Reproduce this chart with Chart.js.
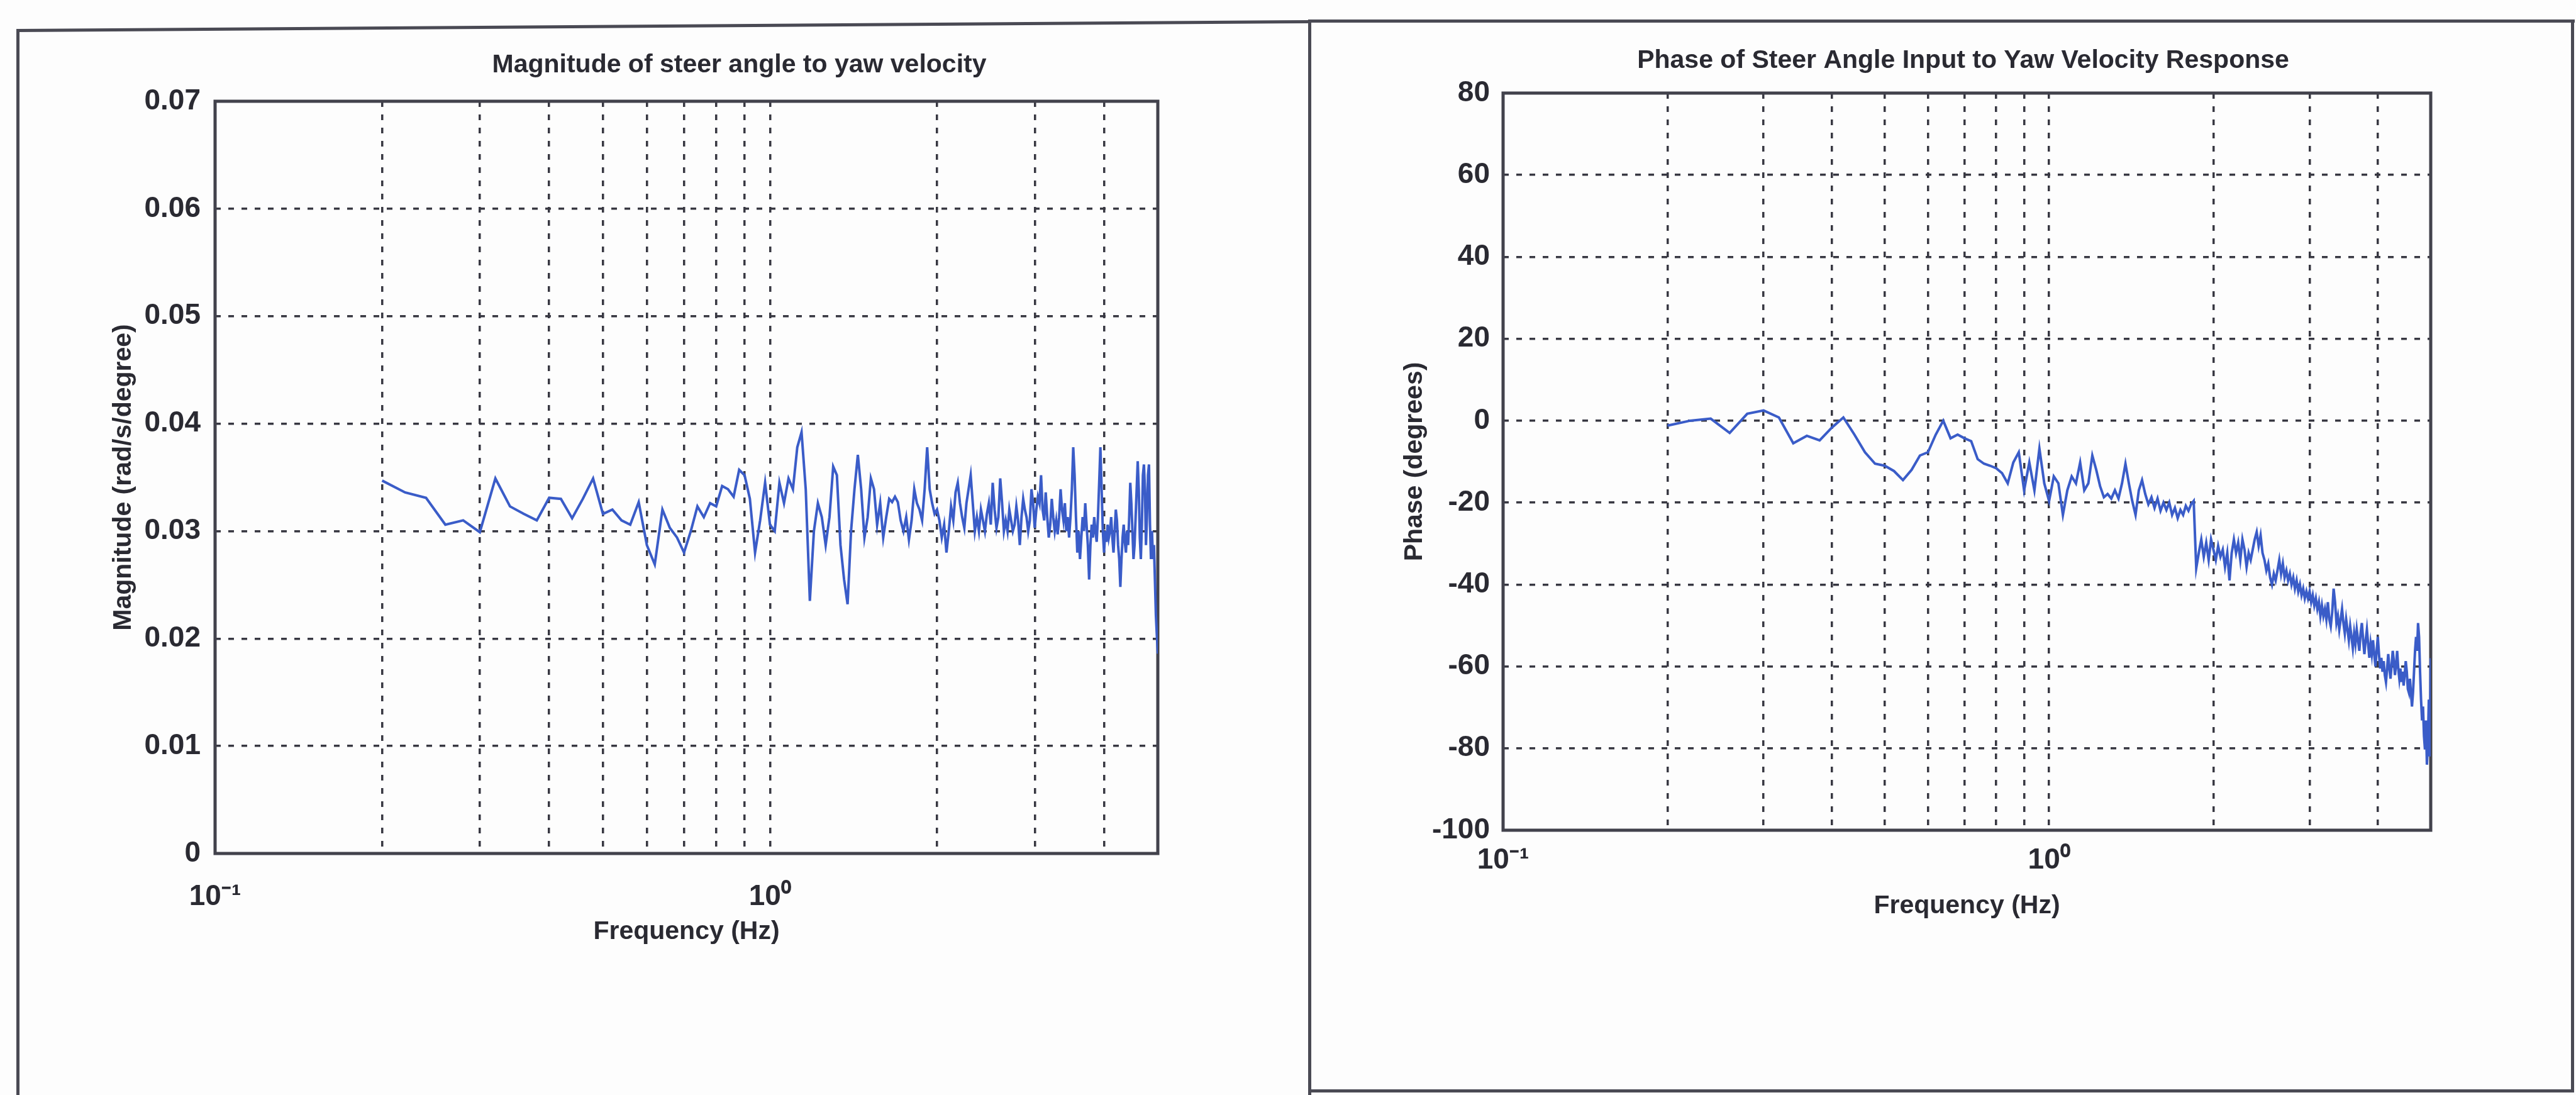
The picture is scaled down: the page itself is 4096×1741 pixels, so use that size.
<!DOCTYPE html>
<html>
<head>
<meta charset="utf-8">
<script src="https://cdn.jsdelivr.net/npm/chart.js@4.4.1/dist/chart.umd.min.js"></script>
<style>
  html, body { margin: 0; padding: 0; background: #fdfdfd; }
  #page { position: relative; width: 4096px; height: 1741px; overflow: hidden; background: #fdfdfd; }
  .rule { position: absolute; background: #4a4a54; }
  canvas { position: absolute; top: 0; }
</style>
</head>
<body>
<div id="page">
  <div class="rule" style="left:27px; top:46px; width:2058px; height:5px; transform-origin:0 50%; transform:rotate(-0.39deg);"></div>
  <div class="rule" style="left:2080px; top:31px; width:2014px; height:5px;"></div>
  <div class="rule" style="left:26px; top:46px; width:5px; height:1700px;"></div>
  <div class="rule" style="left:2080px; top:31px; width:5px; height:1715px;"></div>
  <div class="rule" style="left:4088px; top:31px; width:5px; height:1706px;"></div>
  <div class="rule" style="left:2080px; top:1732px; width:2013px; height:5px;"></div>
  <canvas id="magChart" width="2082" height="1741" style="left:0px;"></canvas>
  <canvas id="phaseChart" width="2014" height="1741" style="left:2082px;"></canvas>
</div>
<script>
// Frequency bins of the measured response (Hz)
const frequencyHz = [
  0.20,0.22,0.24,0.26,0.28,0.30,0.32,0.34,0.36,0.38,
  0.40,0.42,0.44,0.46,0.48,0.50,0.52,0.54,0.56,0.58,
  0.60,0.62,0.64,0.66,0.68,0.70,0.72,0.74,0.76,0.78,
  0.80,0.82,0.84,0.86,0.88,0.90,0.92,0.94,0.96,0.98,
  1.00,1.02,1.04,1.06,1.08,1.10,1.12,1.14,1.16,1.18,
  1.20,1.22,1.24,1.26,1.28,1.30,1.32,1.34,1.36,1.38,
  1.40,1.42,1.44,1.46,1.48,1.50,1.52,1.54,1.56,1.58,
  1.60,1.62,1.64,1.66,1.68,1.70,1.72,1.74,1.76,1.78,
  1.80,1.82,1.84,1.86,1.88,1.90,1.92,1.94,1.96,1.98,
  2.00,2.02,2.04,2.06,2.08,2.10,2.12,2.14,2.16,2.18,
  2.20,2.22,2.24,2.26,2.28,2.30,2.32,2.34,2.36,2.38,
  2.40,2.42,2.44,2.46,2.48,2.50,2.52,2.54,2.56,2.58,
  2.60,2.62,2.64,2.66,2.68,2.70,2.72,2.74,2.76,2.78,
  2.80,2.82,2.84,2.86,2.88,2.90,2.92,2.94,2.96,2.98,
  3.00,3.02,3.04,3.06,3.08,3.10,3.12,3.14,3.16,3.18,
  3.20,3.22,3.24,3.26,3.28,3.30,3.32,3.34,3.36,3.38,
  3.40,3.42,3.44,3.46,3.48,3.50,3.52,3.54,3.56,3.58,
  3.60,3.62,3.64,3.66,3.68,3.70,3.72,3.74,3.76,3.78,
  3.80,3.82,3.84,3.86,3.88,3.90,3.92,3.94,3.96,3.98,
  4.00,4.02,4.04,4.06,4.08,4.10,4.12,4.14,4.16,4.18,
  4.20,4.22,4.24,4.26,4.28,4.30,4.32,4.34,4.36,4.38,
  4.40,4.42,4.44,4.46,4.48,4.50,4.52,4.54,4.56,4.58,
  4.60,4.62,4.64,4.66,4.68,4.70,4.72,4.74,4.76,4.78,
  4.80,4.82,4.84,4.86,4.88,4.90,4.92,4.94,4.96,4.98,
  5.00
];

// Magnitude of steer angle to yaw velocity (rad/s/degree)
const magnitude = [
  0.0347,0.0336,0.0331,0.0306,0.0310,0.0299,0.0349,0.0323,0.0316,0.0310,
  0.0331,0.0330,0.0312,0.0330,0.0349,0.0316,0.0320,0.0310,0.0306,0.0327,
  0.0287,0.0269,0.0320,0.0303,0.0294,0.0280,0.0300,0.0323,0.0313,0.0326,
  0.0323,0.0342,0.0339,0.0332,0.0357,0.0352,0.0330,0.0280,0.0310,0.0345,
  0.0306,0.0300,0.0345,0.0326,0.0349,0.0339,0.0378,0.0392,0.0339,0.0235,
  0.0300,0.0326,0.0313,0.0287,0.0313,0.0360,0.0352,0.0287,0.0255,0.0232,
  0.0300,0.0339,0.0371,0.0339,0.0294,0.0313,0.0349,0.0339,0.0306,0.0326,
  0.0294,0.0313,0.0330,0.0327,0.0332,0.0327,0.0310,0.0300,0.0313,0.0292,
  0.0310,0.0339,0.0326,0.0320,0.0310,0.0339,0.0378,0.0339,0.0326,0.0316,
  0.0320,0.0310,0.0294,0.0306,0.0280,0.0300,0.0323,0.0310,0.0336,0.0345,
  0.0326,0.0313,0.0303,0.0326,0.0339,0.0352,0.0326,0.0300,0.0313,0.0300,
  0.0320,0.0310,0.0300,0.0316,0.0326,0.0306,0.0345,0.0320,0.0303,0.0313,
  0.0349,0.0326,0.0300,0.0310,0.0300,0.0320,0.0310,0.0300,0.0306,0.0323,
  0.0310,0.0287,0.0313,0.0330,0.0320,0.0313,0.0300,0.0310,0.0339,0.0326,
  0.0303,0.0320,0.0332,0.0326,0.0352,0.0320,0.0310,0.0336,0.0313,0.0294,
  0.0306,0.0330,0.0313,0.0300,0.0310,0.0297,0.0313,0.0339,0.0320,0.0310,
  0.0326,0.0300,0.0313,0.0294,0.0313,0.0339,0.0378,0.0352,0.0313,0.0280,
  0.0300,0.0274,0.0294,0.0313,0.0300,0.0326,0.0306,0.0287,0.0255,0.0287,
  0.0306,0.0294,0.0313,0.0300,0.0290,0.0313,0.0345,0.0378,0.0339,0.0300,
  0.0280,0.0300,0.0290,0.0306,0.0294,0.0300,0.0313,0.0294,0.0280,0.0300,
  0.0320,0.0310,0.0287,0.0274,0.0248,0.0274,0.0294,0.0306,0.0290,0.0280,
  0.0300,0.0287,0.0313,0.0345,0.0326,0.0300,0.0274,0.0287,0.0313,0.0339,
  0.0365,0.0339,0.0294,0.0274,0.0306,0.0352,0.0362,0.0339,0.0287,0.0313,
  0.0352,0.0362,0.0306,0.0274,0.0300,0.0274,0.0287,0.0255,0.0222,0.0203,
  0.0186
];

// Phase of steer angle input to yaw velocity response (degrees)
const phaseDeg = [
  -1.2,0,0.5,-3,1.7,2.5,0.8,-5.5,-3.7,-4.8,
  -1.7,0.8,-3.4,-7.7,-10.5,-11,-12.3,-14.5,-12,-8.5,
  -7.7,-3.4,0,-4.3,-3.4,-4.3,-5,-9.4,-10.5,-11,
  -11.6,-12.8,-15.3,-10.2,-7.7,-17,-10.2,-17,-6.8,-15.3,
  -19.6,-13.6,-15.3,-23,-17,-13.6,-15.3,-10.2,-17,-15.3,
  -8.5,-12,-16,-18.7,-17.9,-19,-17,-19,-15.3,-10.5,
  -15.3,-19.6,-23,-17,-14.5,-17.9,-20.4,-18.7,-21.3,-19,
  -22,-20,-21.8,-20,-23,-21.3,-23.8,-21.8,-23,-20.8,
  -22,-20.4,-19.6,-36,-32.3,-29,-33.2,-29.8,-34,-29,
  -31.5,-34,-30.6,-33.2,-31.5,-35.7,-32.3,-39,-32.3,-29,
  -32.3,-29.8,-34,-29,-31.5,-35.7,-32.3,-34,-31.5,-29,
  -27.2,-30.6,-28,-32.3,-34,-36.6,-34.9,-38.3,-40,-37.4,
  -39,-36.6,-34,-37.4,-34.9,-38.3,-36.6,-39,-37.4,-40,
  -38.3,-41,-39,-41.7,-40,-42.6,-41,-43.4,-41.7,-43.4,
  -41.7,-44.3,-42.6,-45.1,-43.4,-46,-44.3,-47.7,-45.1,-47.7,
  -46,-48.5,-44.3,-48.5,-50.2,-46.8,-41,-44.3,-49.4,-47.7,
  -51,-48.5,-46,-49.4,-51.9,-48.5,-51,-53.6,-50.2,-52.8,
  -55.5,-51.9,-54.5,-51,-53.6,-56.2,-51.9,-49.4,-53.6,-57,
  -53.6,-51,-54.5,-57.9,-54.5,-57,-53.6,-57,-60,-56.2,
  -52.8,-57,-60.5,-57.9,-61.3,-58.7,-62.1,-63.8,-60.5,-57,
  -60.5,-63,-59.6,-56.2,-58.7,-62.1,-59.6,-56.2,-60.5,-63,
  -60.5,-63.8,-61.3,-64.7,-62.1,-58.7,-61.3,-65.5,-66.4,-63,
  -66.4,-69.8,-66.4,-61.3,-56.2,-52.8,-56.2,-49.4,-52.8,-61.3,
  -68.1,-73.2,-69.8,-77,-80.3,-73.2,-84,-79,-68.1,-82,
  -58
];

// Grid positions along the logarithmic frequency axis, and the decades that carry labels
const freqGridTicks = [0.1,0.2,0.3,0.4,0.5,0.6,0.7,0.8,0.9,1,2,3,4,5];
const freqLabelValues = [0.1, 1];
const freqLabelText = ['10\u207B\u00B9', '10\u2070'];

const magTicks = [0,0.01,0.02,0.03,0.04,0.05,0.06,0.07];
const magTickLabels = ['0','0.01','0.02','0.03','0.04','0.05','0.06','0.07'];

const phaseTicks = [-100,-80,-60,-40,-20,0,20,40,60,80];
const phaseTickLabels = ['-100','-80','-60','-40','-20','0','20','40','60','80'];

const FONT = "'Liberation Sans', Arial, Helvetica, sans-serif";
const INK = '#2a2a32';
const GRID = '#383842';
const LINE = '#3a5cc8';

// Axes box, drawn under the data trace
const axesBox = {
  id: 'axesBox',
  beforeDatasetsDraw(chart, args, opts) {
    const { ctx, chartArea: a } = chart;
    ctx.save();
    ctx.strokeStyle = opts.color;
    ctx.lineWidth = opts.width;
    ctx.strokeRect(a.left, a.top, a.right - a.left, a.bottom - a.top);
    ctx.restore();
  }
};

// Title placed above the axes
const panelTitle = {
  id: 'panelTitle',
  afterDraw(chart, args, opts) {
    const { ctx, chartArea: a } = chart;
    ctx.save();
    ctx.font = opts.font;
    ctx.fillStyle = opts.color;
    ctx.textAlign = 'center';
    ctx.textBaseline = 'middle';
    ctx.fillText(opts.text, (a.left + a.right) / 2 + opts.dx, opts.y);
    ctx.restore();
  }
};

function labelFrom(values, texts) {
  return v => {
    for (let i = 0; i < values.length; i++) {
      if (Math.abs(values[i] - v) < 1e-9) return texts[i];
    }
    return '';
  };
}

function buildChart(canvasId, spec) {
  const points = frequencyHz.map((f, i) => ({ x: f, y: spec.values[i] }));
  return new Chart(document.getElementById(canvasId), {
    type: 'line',
    data: {
      datasets: [{
        data: points,
        borderColor: LINE,
        borderWidth: 4,
        pointRadius: 0,
        tension: 0,
        fill: false
      }]
    },
    plugins: [axesBox, panelTitle],
    options: {
      responsive: false,
      animation: false,
      devicePixelRatio: 1,
      events: [],
      layout: { padding: { left: 0, top: spec.areaTop, right: spec.padRight, bottom: 0 } },
      plugins: {
        legend: { display: false },
        tooltip: { enabled: false },
        title: { display: false },
        axesBox: { color: '#42424c', width: 5 },
        panelTitle: {
          text: spec.title, dx: spec.titleDx, y: spec.titleY,
          font: 'bold 41px ' + FONT, color: INK
        }
      },
      scales: {
        x: {
          type: 'logarithmic',
          min: 0.1,
          max: 5,
          afterBuildTicks: s => { s.ticks = freqGridTicks.map(v => ({ value: v })); },
          afterFit: s => { s.height = 1741 - spec.areaBottom; },
          ticks: {
            autoSkip: false, maxRotation: 0, minRotation: 0,
            padding: spec.xTickPad,
            color: INK,
            font: { family: FONT, size: 46, weight: 'bold' },
            callback: labelFrom(freqLabelValues, freqLabelText)
          },
          grid: { color: GRID, lineWidth: 3.5, drawTicks: false },
          border: { display: false, dash: [9, 12] },
          title: {
            display: true, text: 'Frequency (Hz)', color: INK,
            font: { family: FONT, size: 41, weight: 'bold' },
            padding: { top: 0, bottom: spec.xTitlePadBottom }
          }
        },
        y: {
          type: 'linear',
          min: spec.yTicks[0],
          max: spec.yTicks[spec.yTicks.length - 1],
          afterBuildTicks: s => { s.ticks = spec.yTicks.map(v => ({ value: v })); },
          afterFit: s => { s.width = spec.areaLeft; },
          ticks: {
            padding: spec.yTickPad,
            color: INK,
            font: { family: FONT, size: 46, weight: 'bold' },
            callback: labelFrom(spec.yTicks, spec.yLabels)
          },
          grid: { color: GRID, lineWidth: 3.5, drawTicks: false },
          border: { display: false, dash: [9, 12] },
          title: {
            display: true, text: spec.yTitle, color: INK,
            font: { family: FONT, size: 41, weight: 'bold' },
            padding: { top: spec.yTitlePadTop, bottom: 0 }
          }
        }
      }
    }
  });
}

buildChart('magChart', {
  values: magnitude,
  yTicks: magTicks,
  yLabels: magTickLabels,
  yTitle: 'Magnitude (rad/s/degree)',
  title: 'Magnitude of steer angle to yaw velocity',
  titleDx: 84, titleY: 104,
  areaLeft: 342, areaTop: 161, areaBottom: 1357, padRight: 241,
  xTickPad: 42, yTickPad: 23,
  xTitlePadBottom: 235, yTitlePadTop: 172
});

buildChart('phaseChart', {
  values: phaseDeg,
  yTicks: phaseTicks,
  yLabels: phaseTickLabels,
  yTitle: 'Phase (degrees)',
  title: 'Phase of Steer Angle Input to Yaw Velocity Response',
  titleDx: -6, titleY: 97,
  areaLeft: 308, areaTop: 148, areaBottom: 1320, padRight: 231,
  xTickPad: 21, yTickPad: 21,
  xTitlePadBottom: 276, yTitlePadTop: 143
});
</script>
</body>
</html>
